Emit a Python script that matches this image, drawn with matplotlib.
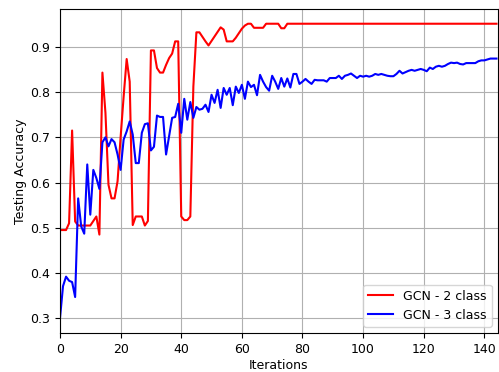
import numpy as np
import matplotlib
matplotlib.use("Agg")
import matplotlib.pyplot as plt

# testing accuracy per iteration
acc_2class = [
    0.495, 0.495, 0.495, 0.51, 0.715, 0.514, 0.505, 0.505, 0.505, 0.505,
    0.505, 0.515, 0.525, 0.485, 0.843, 0.754, 0.595, 0.565, 0.565, 0.603,
    0.70, 0.79, 0.873, 0.823, 0.506, 0.525, 0.525, 0.525, 0.505, 0.515,
    0.892, 0.892, 0.853, 0.843, 0.843, 0.86, 0.875, 0.885, 0.912, 0.912,
    0.525, 0.517, 0.517, 0.525, 0.812, 0.932, 0.932, 0.922, 0.912, 0.903,
    0.913, 0.923, 0.933, 0.943, 0.938, 0.912, 0.912, 0.912, 0.92, 0.93,
    0.94, 0.947, 0.951, 0.951, 0.942, 0.942, 0.942, 0.942, 0.951, 0.951,
    0.951, 0.951, 0.951, 0.941, 0.941,
] + [0.951] * 70

acc_3class = [
    0.30, 0.371, 0.392, 0.383, 0.380, 0.347, 0.565, 0.503, 0.487, 0.640,
    0.529, 0.628, 0.610, 0.586, 0.689, 0.700, 0.680, 0.696, 0.689, 0.662,
    0.628, 0.695, 0.713, 0.735, 0.706, 0.643, 0.643, 0.710, 0.729, 0.731,
    0.671, 0.679, 0.748, 0.745, 0.745, 0.662, 0.702, 0.743, 0.745, 0.774,
    0.710, 0.785, 0.739, 0.778, 0.743, 0.767, 0.761, 0.763, 0.772, 0.756,
    0.794, 0.776, 0.805, 0.765, 0.809, 0.794, 0.809, 0.771, 0.812, 0.798,
    0.816, 0.785, 0.823, 0.811, 0.816, 0.793, 0.838, 0.823, 0.811, 0.803,
    0.836, 0.823, 0.807, 0.831, 0.812, 0.830, 0.810, 0.840, 0.840, 0.818,
    0.823, 0.829, 0.823, 0.818, 0.827, 0.826, 0.826, 0.826, 0.823, 0.831,
    0.831, 0.831, 0.836, 0.829, 0.836, 0.838, 0.841, 0.836, 0.831, 0.836,
    0.834, 0.836, 0.834, 0.836, 0.840, 0.838, 0.840, 0.838, 0.836, 0.835,
    0.835, 0.840, 0.847, 0.841, 0.844, 0.847, 0.849, 0.847, 0.849, 0.851,
    0.849, 0.846, 0.854, 0.851, 0.856, 0.858, 0.856, 0.858, 0.862, 0.865,
    0.864, 0.865, 0.862, 0.861, 0.864, 0.864, 0.864, 0.864, 0.868, 0.870,
    0.870, 0.872, 0.874, 0.874, 0.874,
]

iterations = np.arange(len(acc_2class))

plt.rcParams["font.size"] = 9

fig = plt.figure(figsize=(4.99, 3.72), dpi=100)
ax = fig.add_axes([0.1202, 0.1048, 0.8778, 0.871])
ax.plot(iterations, acc_2class, color="red", lw=1.5, label="GCN - 2 class")
ax.plot(iterations, acc_3class, color="blue", lw=1.5, label="GCN - 3 class")
ax.set_xlim(0, 144.5)
ax.set_xlabel("Iterations", labelpad=2)
ax.set_ylabel("Testing Accuracy", labelpad=2)
ax.grid(True)
ax.legend(loc="lower right")
fig.savefig("out.png", dpi=100)
